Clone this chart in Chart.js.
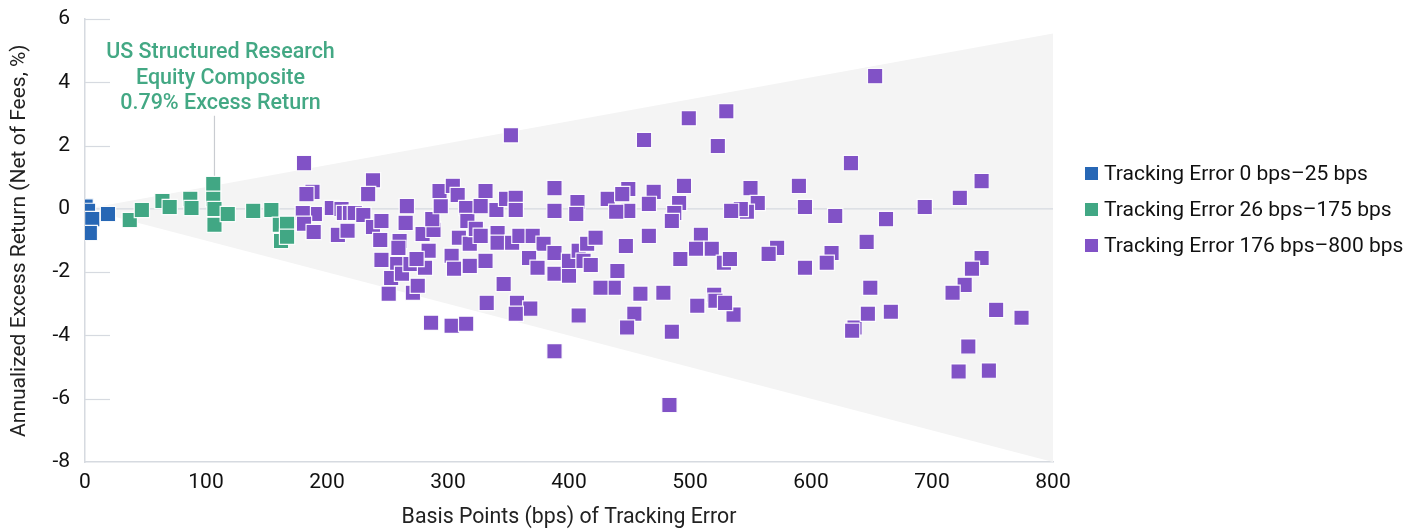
<!DOCTYPE html>
<html><head><meta charset="utf-8">
<script src="https://cdn.jsdelivr.net/npm/chart.js@4"></script>
<style>
html,body{margin:0;padding:0;background:#fff;}
#wrap{position:relative;width:1425px;height:529px;}
#legend{position:absolute;left:1085px;top:155px;font-family:Roboto,"Noto Sans",sans-serif;font-size:21px;color:#111;}
.item{display:flex;align-items:center;height:36px;white-space:nowrap;}
.sw{width:13px;height:13px;margin-right:6px;flex:none;}
</style></head><body>
<div id="wrap"><canvas id="c" width="1425" height="529"></canvas><div id="legend"></div></div>
<script>
const seriesNames = ["Tracking Error 0 bps\u201325 bps","Tracking Error 26 bps\u2013175 bps","Tracking Error 176 bps\u2013800 bps"];
const seriesColors = ["#2767b5","#41a784","#8152c6"];

const blueX = [0.5, 1, 2.5, 6, 4, 19];
const blueY = [0.08, -0.12, -0.06, -0.32, -0.76, -0.16];

const greenX = [37,47,64,70,87,88,106,106,107,107,118,139,154,161,167,162,167];
const greenY = [-0.35,-0.03,0.25,0.06,0.32,0.03,0.79,0.32,0.0,-0.5,-0.16,-0.06,-0.03,-0.5,-0.47,-1.01,-0.88];

const purpleX = [181,188,183,204,190,180,181,189,212,214,219,223,230,209,217,238,234,238,245,244,
245,266,265,260,259,258,253,251,262,269,271,275,279,284,281,274,288,287,294,293,
304,308,315,316,309,318,303,305,318,286,303,315,331,327,340,348,356,356,388,388,
407,406,432,449,444,449,439,470,466,323,327,341,341,353,359,370,379,388,367,374,
388,400,400,408,415,422,412,418,447,440,437,426,459,454,448,466,331,346,332,357,
368,356,408,352,499,530,462,523,653,388,485,483,536,636,634,730,722,747,774,495,
491,487,485,509,505,492,518,528,533,550,556,547,542,534,590,595,620,572,565,595,
617,613,478,506,520,521,529,633,741,723,694,662,646,741,733,727,717,649,647,666,753];
const purpleY = [1.45,0.54,0.47,0.03,-0.16,-0.13,-0.47,-0.73,0.0,-0.13,-0.13,-0.13,-0.19,-0.82,-0.69,0.91,0.47,-0.57,-0.38,-0.98,
-1.61,0.09,-0.44,-1.01,-1.23,-1.74,-2.18,-2.68,-2.05,-1.74,-2.65,-2.43,-0.79,-1.32,-1.86,-1.58,-0.66,-0.32,0.09,0.57,
0.73,0.44,0.03,-0.38,-0.91,-1.1,-1.48,-1.89,-1.8,-3.6,-3.69,-3.63,0.57,0.09,-0.03,0.32,0.35,-0.03,0.66,-0.06,
0.22,-0.16,0.32,0.63,0.47,-0.06,-0.09,0.54,0.16,-0.63,-0.85,-0.76,-1.07,-1.07,-0.85,-0.85,-1.1,-1.39,-1.55,-1.86,
-2.05,-2.11,-1.64,-1.32,-1.1,-0.91,-1.64,-1.77,-1.17,-1.96,-2.49,-2.49,-2.68,-3.31,-3.75,-0.85,-1.64,-2.37,-2.97,-2.97,
-3.15,-3.31,-3.37,2.33,2.87,3.09,2.18,1.99,4.2,-4.5,-3.88,-6.2,-3.34,-3.75,-3.85,-4.35,-5.14,-5.11,-3.44,0.73,
0.19,-0.13,-0.38,-0.82,-1.26,-1.58,-1.26,-1.7,-1.58,0.66,0.19,-0.09,0.0,-0.06,0.73,0.06,-0.22,-1.23,-1.42,-1.86,
-1.39,-1.7,-2.65,-3.06,-2.71,-2.9,-2.97,1.45,0.88,0.35,0.06,-0.32,-1.04,-1.55,-1.89,-2.4,-2.65,-2.49,-3.31,-3.25,-3.19];

const coneX = [0, 800];
const coneUpper = [0, 5.55];
const coneLower = [0, -8];
const zeroLineX = [0, 800];

const annotationX = 107;
const annotationLineY = [2.95, 0.85];
const annotationText = ["US Structured Research","Equity Composite","0.79% Excess Return"];

const yTicks = [-8,-6,-4,-2,0,2,4,6];
const xTicks = [0,100,200,300,400,500,600,700,800];

const pts = (xs, ys) => xs.map((x,i)=>({x:x, y:ys[i]}));
const FONT = 'Roboto, "Noto Sans", sans-serif';
const GRID = '#d6dae0';

const scatterCommon = {
  type:'scatter', pointStyle:'rect', pointRadius:10.8, pointHoverRadius:10.8,
  borderColor:'rgba(255,255,255,0.95)', pointBorderWidth:1.2, borderWidth:1.2
};

const tickMarks = {
  id:'tickMarks',
  beforeDatasetsDraw(chart){
    const {ctx, chartArea, scales:{y}} = chart;
    ctx.save();
    ctx.strokeStyle = GRID; ctx.lineWidth = 1.2;
    yTicks.forEach(v=>{
      if (v===0 || v===-8) return;
      const py = Math.round(y.getPixelForValue(v))+0.5;
      ctx.beginPath(); ctx.moveTo(chartArea.left, py); ctx.lineTo(chartArea.left+25, py); ctx.stroke();
    });
    ctx.restore();
  }
};

const annoText = {
  id:'annoText',
  afterDatasetsDraw(chart){
    const {ctx, scales:{x,y}} = chart;
    const px = x.getPixelForValue(annotationX) + 6;
    const topPy = y.getPixelForValue(annotationLineY[0]);
    ctx.save();
    ctx.fillStyle = '#43a884';
    ctx.font = '500 21.5px ' + FONT;
    ctx.textAlign = 'center'; ctx.textBaseline = 'middle';
    const lh = 25.5;
    annotationText.forEach((t,i)=>{
      ctx.fillText(t, px, topPy - 12 - (annotationText.length-1-i)*lh);
    });
    ctx.restore();
  }
};

new Chart(document.getElementById('c'), {
  data:{
    datasets:[
      Object.assign({label:seriesNames[0], data:pts(blueX,blueY), backgroundColor:seriesColors[0]}, scatterCommon),
      Object.assign({label:seriesNames[1], data:pts(greenX,greenY), backgroundColor:seriesColors[1]}, scatterCommon),
      Object.assign({label:seriesNames[2], data:pts(purpleX,purpleY), backgroundColor:seriesColors[2]}, scatterCommon),
      {type:'line', label:'anno', data:pts([annotationX,annotationX], annotationLineY), borderColor:'#c9ccd1', borderWidth:1.2, pointRadius:0, fill:false},
      {type:'line', label:'zero', data:pts(zeroLineX,[0,0]), borderColor:GRID, borderWidth:1.2, pointRadius:0, fill:false},
      {type:'line', label:'coneU', data:pts(coneX,coneUpper), borderColor:'rgba(0,0,0,0)', borderWidth:0, pointRadius:0, fill:false},
      {type:'line', label:'coneL', data:pts(coneX,coneLower), borderColor:'rgba(0,0,0,0)', borderWidth:0, pointRadius:0, fill:'-1', backgroundColor:'#f4f4f4'}
    ]
  },
  options:{
    responsive:false, animation:false, devicePixelRatio:1,
    layout:{padding:{left:0,right:372,top:18,bottom:0}},
    plugins:{legend:{display:false}, tooltip:{enabled:false}},
    scales:{
      x:{type:'linear', min:0, max:800,
        afterBuildTicks(s){ s.ticks = xTicks.map(v=>({value:v})); },
        afterFit(s){ s.height = 67; },
        grid:{display:false, drawTicks:false},
        border:{display:true, color:GRID, width:1.5},
        ticks:{padding:8, color:'#111', font:{family:FONT, size:21}},
        title:{display:true, text:'Basis Points (bps) of Tracking Error', color:'#222', font:{family:FONT, size:21.3, lineHeight:1.05}, padding:{top:0,bottom:0}}
      },
      y:{type:'linear', min:-8, max:6,
        afterBuildTicks(s){ s.ticks = yTicks.map(v=>({value:v})); },
        afterFit(s){ s.width = 85; },
        grid:{display:false, drawTicks:false},
        border:{display:true, color:GRID, width:1.5},
        ticks:{padding:15, color:'#111', font:{family:FONT, size:21, lineHeight:0.4}},
        title:{display:true, text:'Annualized Excess Return (Net of Fees, %)', color:'#222', font:{family:FONT, size:21, lineHeight:1.05}, padding:{top:9,bottom:0}}
      }
    }
  },
  plugins:[tickMarks, annoText]
});

const leg = document.getElementById('legend');
seriesNames.forEach((n,i)=>{
  const d = document.createElement('div'); d.className='item';
  const s = document.createElement('span'); s.className='sw'; s.style.background=seriesColors[i];
  const t = document.createElement('span'); t.textContent = n;
  d.appendChild(s); d.appendChild(t); leg.appendChild(d);
});
</script>
</body></html>
